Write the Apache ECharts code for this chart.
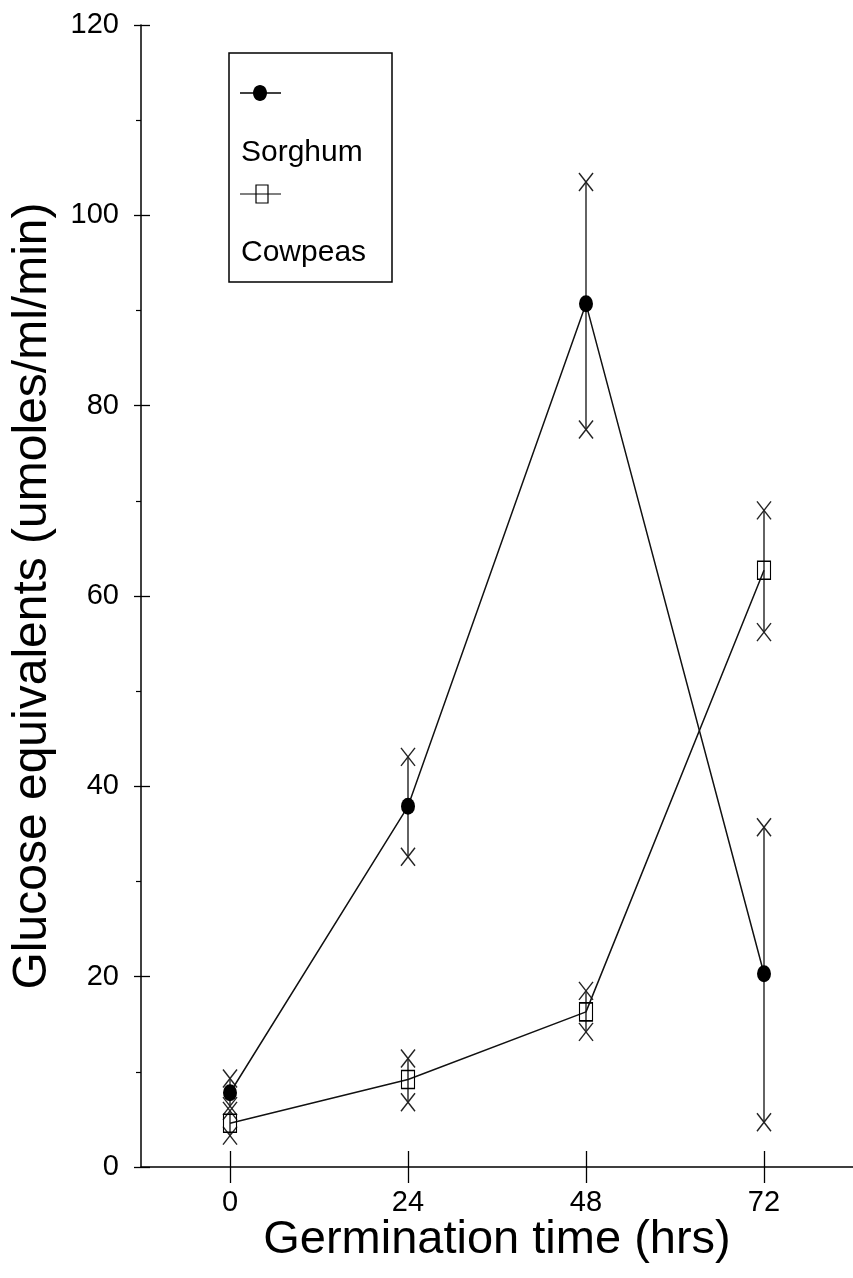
<!DOCTYPE html>
<html>
<head>
    <meta charset="utf-8"/>
    <title>Glucose equivalents vs germination time</title>
    <style>
        html, body { margin: 0; padding: 0; background: #fff; }
        #main { width: 853px; height: 1278px; }
    </style>
</head>
<body>
<div id="main"></div>
<script src="https://cdn.jsdelivr.net/npm/echarts@6/dist/echarts.min.js"></script>
<script type="text/javascript">
    // germination time (hrs)
    var hours = [0, 24, 48, 72]
    var xTicks = [0, 24, 48, 72]
    // sorghum: mean and error bar ends
    var sorghumMean = [7.8, 37.9, 90.7, 20.3]
    var sorghumLow = [6.4, 32.6, 77.5, 4.7]
    var sorghumHigh = [9.3, 43.1, 103.5, 35.7]
    // cowpeas: mean and error bar ends
    var cowpeaMean = [4.6, 9.2, 16.3, 62.7]
    var cowpeaLow = [3.3, 6.8, 14.2, 56.2]
    var cowpeaHigh = [5.9, 11.4, 18.5, 69.0]

    var FONT = 'Liberation Sans, Arial, sans-serif'

    function pairs(ys) {
        return hours.map(function (h, i) { return [h, ys[i]] })
    }
    function triples(lo, hi) {
        return hours.map(function (h, i) { return [h, lo[i], hi[i]] })
    }

    // vertical bar with an X at each end
    function errorItem(params, api) {
        var x = api.value(0)
        var pLo = api.coord([x, api.value(1)])
        var pHi = api.coord([x, api.value(2)])
        var sx = 7, sy = 9
        var st = { stroke: '#222', lineWidth: 1.4, fill: null }
        function cross(p) {
            return [
                { type: 'line', shape: { x1: p[0] - sx, y1: p[1] - sy, x2: p[0] + sx, y2: p[1] + sy }, style: st },
                { type: 'line', shape: { x1: p[0] - sx, y1: p[1] + sy, x2: p[0] + sx, y2: p[1] - sy }, style: st }
            ]
        }
        return {
            type: 'group',
            children: [{ type: 'line', shape: { x1: pLo[0], y1: pLo[1], x2: pHi[0], y2: pHi[1] }, style: st }]
                .concat(cross(pLo)).concat(cross(pHi))
        }
    }

    var chart = echarts.init(document.getElementById('main'), null, { renderer: 'canvas' })
    var axisLine = { show: true, onZero: false, lineStyle: { color: '#000', width: 1.5 } }
    var hiddenLine = { show: false, onZero: false }

    chart.setOption({
        backgroundColor: '#fff',
        animation: false,
        grid: { left: 141, right: 0, top: 25, bottom: 111, outerBoundsMode: 'none' },
        xAxis: [{
            type: 'value', min: -12, max: 84, position: 'bottom',
            name: 'Germination time (hrs)', nameLocation: 'middle', nameGap: 50, nameMoveOverlap: false,
            nameTextStyle: { fontFamily: FONT, fontSize: 47, color: '#000' },
            axisLine: axisLine,
            axisTick: { show: true, customValues: xTicks, length: 16, lineStyle: { color: '#000', width: 1.3 } },
            axisLabel: { customValues: xTicks, fontFamily: FONT, fontSize: 29, color: '#000', margin: 21 },
            splitLine: { show: false }
        }, {
            type: 'value', min: -12, max: 84, position: 'bottom',
            axisLine: hiddenLine,
            axisTick: { show: true, inside: true, customValues: xTicks, length: 16, lineStyle: { color: '#000', width: 1.3 } },
            axisLabel: { show: false },
            splitLine: { show: false }
        }],
        yAxis: [{
            type: 'value', min: 0, max: 120, interval: 20, position: 'left',
            name: 'Glucose equivalents (umoles/ml/min)', nameLocation: 'middle', nameGap: 84, nameMoveOverlap: false,
            nameTextStyle: { fontFamily: FONT, fontSize: 48, color: '#000' },
            axisLine: axisLine,
            axisTick: { show: true, length: 7, lineStyle: { color: '#000', width: 1.3 } },
            minorTick: { show: true, splitNumber: 2, length: 5, lineStyle: { color: '#000', width: 1.2 } },
            axisLabel: { fontFamily: FONT, fontSize: 29, color: '#000', margin: 22 },
            splitLine: { show: false }
        }, {
            type: 'value', min: 0, max: 120, interval: 20, position: 'left',
            axisLine: hiddenLine,
            axisTick: { show: true, inside: true, length: 9, lineStyle: { color: '#000', width: 1.3 } },
            axisLabel: { show: false },
            splitLine: { show: false }
        }],
        graphic: [
            { type: 'rect', shape: { x: 229, y: 53, width: 163, height: 229 }, style: { fill: '#fff', stroke: '#000', lineWidth: 1.5 }, z: 10 },
            { type: 'line', shape: { x1: 240, y1: 93, x2: 281, y2: 93 }, style: { stroke: '#000', lineWidth: 1.4 }, z: 11 },
            { type: 'ellipse', shape: { cx: 260, cy: 93, rx: 7, ry: 8 }, style: { fill: '#000' }, z: 12 },
            { type: 'text', left: 241, top: 138, style: { text: 'Sorghum', font: '30px ' + FONT, fill: '#000' }, z: 11 },
            { type: 'line', shape: { x1: 240, y1: 194, x2: 281, y2: 194 }, style: { stroke: '#000', lineWidth: 1.2 }, z: 11 },
            { type: 'rect', shape: { x: 256, y: 185, width: 12, height: 18 }, style: { fill: 'none', stroke: '#000', lineWidth: 1.2 }, z: 12 },
            { type: 'text', left: 241, top: 238, style: { text: 'Cowpeas', font: '30px ' + FONT, fill: '#000' }, z: 11 }
        ],
        series: [
            {
                name: 'Sorghum error', type: 'custom', renderItem: errorItem,
                data: triples(sorghumLow, sorghumHigh), encode: { x: 0, y: [1, 2] }, z: 2
            },
            {
                name: 'Cowpeas error', type: 'custom', renderItem: errorItem,
                data: triples(cowpeaLow, cowpeaHigh), encode: { x: 0, y: [1, 2] }, z: 2
            },
            {
                name: 'Sorghum', type: 'line', data: pairs(sorghumMean),
                symbol: 'circle', symbolSize: [14, 17], showAllSymbol: true,
                lineStyle: { color: '#111', width: 1.5 },
                itemStyle: { color: '#000', borderWidth: 0 }, z: 3
            },
            {
                name: 'Cowpeas', type: 'line', data: pairs(cowpeaMean),
                symbol: 'rect', symbolSize: [13, 18], showAllSymbol: true,
                lineStyle: { color: '#111', width: 1.5 },
                itemStyle: { color: 'rgba(255,255,255,0)', borderColor: '#000', borderWidth: 1.3 }, z: 3
            }
        ]
    })
</script>
</body>
</html>
